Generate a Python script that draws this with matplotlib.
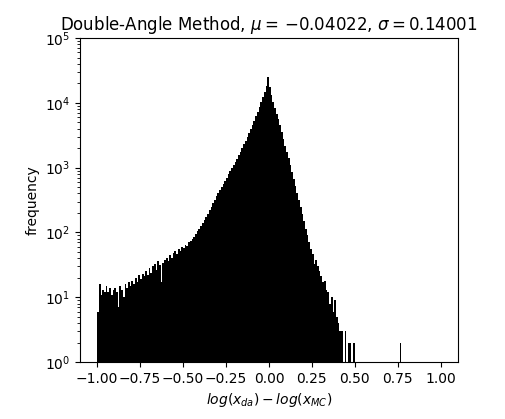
import numpy as np
import matplotlib
matplotlib.use("Agg")
import matplotlib.pyplot as plt

# histogram of log(x_da) - log(x_MC), bin width 0.01 from -1.00 to 0.77
bin_edges = np.round(np.arange(-1.0, 0.7701, 0.01), 2)

counts = [
    6, 16, 11, 13, 12, 15, 12, 14, 11, 13,
    14, 12, 7, 15, 13, 10, 16, 14, 17, 15,
    18, 16, 20, 17, 22, 19, 23, 21, 25, 22,
    28, 24, 30, 33, 26, 36, 31, 17, 34, 38,
    41, 36, 45, 40, 48, 52, 46, 55, 51, 60,
    58, 64, 62, 70, 74, 80, 86, 95, 104, 115,
    128, 142, 158, 176, 196, 220, 248, 280, 318, 360,
    405, 450, 500, 560, 625, 700, 785, 880, 985, 1100,
    1230, 1380, 1560, 1760, 2000, 2280, 2600, 2980, 3420, 3930,
    4600, 5300, 6200, 7300, 8600, 10200, 12200, 14800, 18500, 25500,
    17500, 13200, 10400, 8300, 6800, 5600, 4500, 3500, 2800, 2200,
    1750, 1400, 1100, 870, 680, 530, 410, 315, 245, 190,
    148, 115, 90, 70, 55, 47, 33, 37, 30, 25,
    21, 17, 18, 13, 12, 8, 10, 6, 9, 5,
    4, 3, 3, 0, 3, 0, 2, 2, 0, 2,
    0, 0, 0, 0, 0, 0, 0, 0, 0, 0,
    0, 0, 0, 0, 0, 0, 0, 0, 0, 0,
    0, 0, 0, 0, 0, 0, 2,
]

mu = -0.04022
sigma = 0.14001

centers = (bin_edges[:-1] + bin_edges[1:]) / 2

fig = plt.figure(figsize=(5.06, 4.19), dpi=100)
ax = fig.add_axes([0.158, 0.136, 0.747, 0.773])
ax.hist(centers, bins=bin_edges, weights=counts, color='black',
        histtype='stepfilled', log=True)
ax.set_xlim(-1.1, 1.1)
ax.set_ylim(1, 1e5)
ax.set_xticks([-1.0, -0.75, -0.5, -0.25, 0.0, 0.25, 0.5, 0.75, 1.0])
ax.set_title(r'Double-Angle Method, $\mu =\,{%.5f}$, $\sigma = %.5f$' % (mu, sigma))
ax.set_xlabel(r'$log(x_{da}) - log(x_{MC})$')
ax.set_ylabel('frequency')

fig.savefig('out.png', dpi=100)
